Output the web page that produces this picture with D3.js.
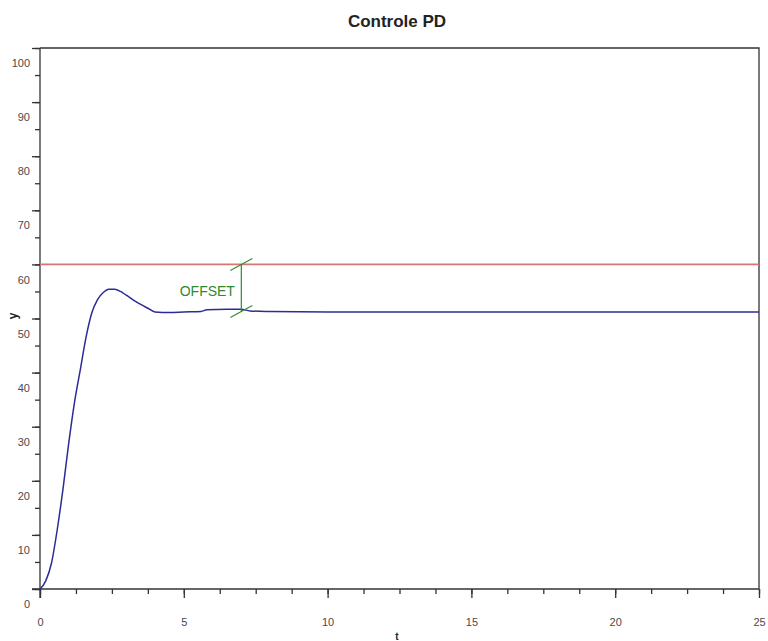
<!DOCTYPE html>
<html>
  <head>
    <meta charset="utf-8"/>
    <title>Controle PD</title>
    <style>
      body { margin: 0; background: #fff; }
      text { font-family: "Liberation Sans", Arial, sans-serif; }
      .axis path, .axis line { stroke: #333; stroke-width: 1.3px; }
    </style>
    <script src="https://d3js.org/d3.v7.min.js"></script>
  </head>
  <body>
    <svg id="chart" width="768" height="641"></svg>
    <script>
      // time (s) and plant output y
      var time = [0, 0.2, 0.4, 0.6, 0.8, 1.0, 1.2, 1.4, 1.6, 1.8, 2.0, 2.2, 2.4, 2.6, 2.8, 3.0,
                  3.25, 3.5, 3.75, 4.0, 4.5, 5.0, 5.6, 5.8, 6.5, 7.0, 7.3, 8.0, 10, 25];
      var output = [0, 1.5, 4.8, 11, 18.5, 27, 34.5, 40.5, 46.5, 51, 53.5, 54.8, 55.4, 55.4, 55.0, 54.3,
                    53.4, 52.6, 51.9, 51.2, 51.1, 51.2, 51.3, 51.6, 51.7, 51.7, 51.4, 51.3, 51.2, 51.2];

      // setpoint (reference)
      var setpointTime = [0, 25];
      var setpoint = [60, 60];

      // offset annotation
      var offsetAt = 7;
      var offsetTop = 60;
      var offsetBottom = 51.3;

      var xMajor = [0, 5, 10, 15, 20, 25];
      var xMinor = d3.range(0, 25.01, 1.25);
      var yMajor = [0, 10, 20, 30, 40, 50, 60, 70, 80, 90, 100];
      var yMinor = d3.range(0, 100.01, 5);

      var svg = d3.select("#chart");

      var x = d3.scaleLinear().domain([0, 25]).range([40, 759]);
      var y = d3.scaleLinear().domain([0, 100]).range([589, 48]);

      // frame (top and right)
      svg.append("path")
        .attr("d", "M" + x(0) + "," + y(100) + "H" + x(25) + "V" + y(0))
        .attr("fill", "none")
        .attr("stroke", "#333")
        .attr("stroke-width", 1.3);

      // minor ticks
      svg.append("g").attr("class", "axis")
        .attr("transform", "translate(0," + y(0) + ")")
        .call(d3.axisBottom(x).tickValues(xMinor).tickSize(5).tickFormat(""))
        .select(".domain").remove();
      svg.append("g").attr("class", "axis")
        .attr("transform", "translate(" + x(0) + ",0)")
        .call(d3.axisLeft(y).tickValues(yMinor).tickSize(5).tickFormat(""))
        .select(".domain").remove();

      // major ticks + labels
      var gx = svg.append("g").attr("class", "axis")
        .attr("transform", "translate(0," + y(0) + ")")
        .call(d3.axisBottom(x).tickValues(xMajor).tickSize(9).tickSizeOuter(0).tickPadding(20));
      gx.select(".domain").attr("d", "M32,0H" + x(25));

      var gy = svg.append("g").attr("class", "axis")
        .attr("transform", "translate(" + x(0) + ",0)")
        .call(d3.axisLeft(y).tickValues(yMajor).tickSize(8).tickSizeOuter(0).tickPadding(2));
      gy.select(".domain").attr("d", "M0," + y(100) + "V" + (y(0) + 9));
      gy.selectAll(".tick text").attr("dy", "1.7em").attr("x", -10);

      svg.selectAll(".tick text")
        .attr("font-size", 11)
        .attr("fill", "#4a4a4a");

      // axis names
      svg.append("text")
        .attr("transform", "translate(17,316) rotate(-90)")
        .attr("text-anchor", "middle")
        .attr("font-size", 12)
        .attr("font-weight", "bold")
        .attr("fill", "#222")
        .text("y");
      svg.append("text")
        .attr("x", 397).attr("y", 640)
        .attr("text-anchor", "middle")
        .attr("font-size", 10)
        .attr("font-weight", "bold")
        .attr("fill", "#222")
        .text("t");

      // title
      svg.append("text")
        .attr("x", 397).attr("y", 27)
        .attr("text-anchor", "middle")
        .attr("font-size", 17)
        .attr("font-weight", "bold")
        .attr("fill", "#222")
        .text("Controle PD");

      var line = d3.line()
        .x(function(d) { return x(d[0]); })
        .y(function(d) { return y(d[1]); });

      svg.append("path")
        .datum(d3.zip(setpointTime, setpoint))
        .attr("d", line)
        .attr("fill", "none")
        .attr("stroke", "#d97474")
        .attr("stroke-width", 1.6);

      svg.append("path")
        .datum(d3.zip(time, output))
        .attr("d", line.curve(d3.curveMonotoneX))
        .attr("fill", "none")
        .attr("stroke", "#2c2c96")
        .attr("stroke-width", 1.5);

      // offset dimension
      var green = "#2f8a2f";
      var ax = x(offsetAt);
      svg.append("line")
        .attr("x1", ax).attr("x2", ax)
        .attr("y1", y(offsetTop)).attr("y2", y(offsetBottom))
        .attr("stroke", green).attr("stroke-width", 1.2);
      [offsetTop, offsetBottom].forEach(function(v) {
        svg.append("line")
          .attr("x1", ax - 11).attr("y1", y(v) + 6)
          .attr("x2", ax + 11).attr("y2", y(v) - 6)
          .attr("stroke", green).attr("stroke-width", 1.1);
      });
      svg.append("text")
        .attr("x", ax - 34).attr("y", 296)
        .attr("text-anchor", "middle")
        .attr("font-size", 14)
        .attr("fill", green)
        .text("OFFSET");
    </script>
  </body>
</html>
